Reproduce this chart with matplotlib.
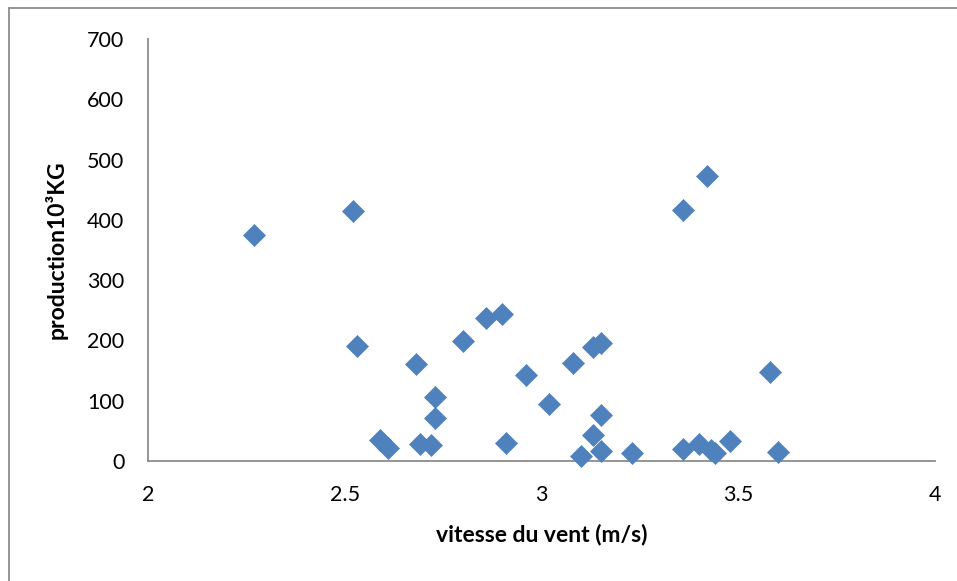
import matplotlib
matplotlib.use("Agg")
import matplotlib.pyplot as plt
from matplotlib.patches import Rectangle

wind_speed = [2.27, 2.52, 2.53, 2.59, 2.61, 2.68, 2.69, 2.72, 2.73, 2.73,
              2.80, 2.86, 2.90, 2.91, 2.96, 3.02, 3.08, 3.10, 3.13, 3.15,
              3.15, 3.13, 3.15, 3.23, 3.36, 3.36, 3.40, 3.43, 3.44, 3.42,
              3.48, 3.58, 3.60]
production = [375, 415, 191, 35, 22, 161, 28, 27, 106, 71,
              199, 237, 244, 30, 143, 95, 162, 8, 189, 196,
              76, 43, 17, 13, 20, 416, 28, 18, 13, 473,
              33, 148, 15]
x_ticks = [2, 2.5, 3, 3.5, 4]
x_tick_labels = ["2", "2.5", "3", "3.5", "4"]
y_ticks = [0, 100, 200, 300, 400, 500, 600, 700]

plt.rcParams['font.family'] = ['Lato', 'DejaVu Sans']

W, H = 957, 581
fig = plt.figure(figsize=(W / 100, H / 100), dpi=100)
fig.patch.set_facecolor("white")
fig.patches.append(Rectangle((9 / W, -0.1), 1.2, 1 - 8 / H + 0.1, transform=fig.transFigure,
                             fill=False, edgecolor="#8c8c8c", linewidth=1.3))

ax = fig.add_axes([148 / W, 1 - 461 / H, (935 - 148) / W, (461 - 39) / H])
ax.scatter(wind_speed, production, marker="D", s=125, color="#4F81BD",
           edgecolors="#4F81BD", linewidths=0.5, zorder=3, clip_on=False)

ax.set_xlim(2, 4)
ax.set_ylim(0, 700)
ax.set_xticks(x_ticks)
ax.set_xticklabels(x_tick_labels)
ax.set_yticks(y_ticks)
ax.tick_params(axis="both", length=0, labelsize=15.5, colors="black")
ax.tick_params(axis="x", pad=17)
ax.tick_params(axis="y", pad=17)
for side in ["top", "right"]:
    ax.spines[side].set_visible(False)
for side in ["left", "bottom"]:
    ax.spines[side].set_color("#8c8c8c")
    ax.spines[side].set_linewidth(1.3)

ax.set_xlabel("vitesse du vent (m/s)", fontsize=16.5, fontweight="bold", labelpad=14)
ax.set_ylabel("production10³KG", fontsize=16.5, fontweight="bold", labelpad=14)

fig.savefig("out.png", dpi=100)
